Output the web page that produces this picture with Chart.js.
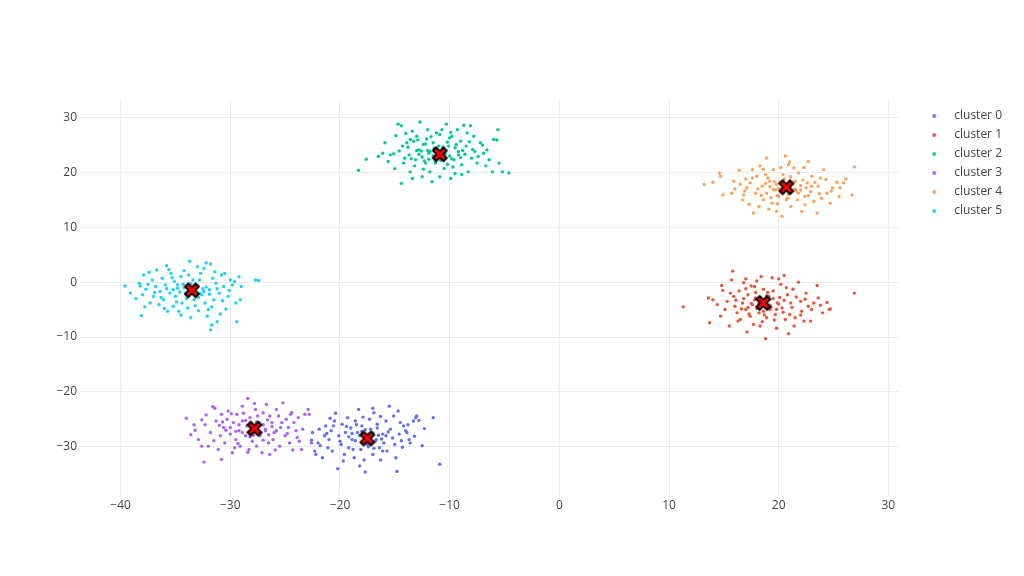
<!DOCTYPE html>
<html>
<head>
<meta charset="utf-8">
<script src="https://cdn.jsdelivr.net/npm/chart.js@4.4.1/dist/chart.umd.min.js"></script>
<style>
  html, body { margin: 0; padding: 0; background: #ffffff; }
  #wrap { width: 1024px; height: 576px; }
</style>
</head>
<body>
<div id="wrap"><canvas id="chart" width="1024" height="576"></canvas></div>
<script>
// values
const clusterNames = ['cluster 0', 'cluster 1', 'cluster 2', 'cluster 3', 'cluster 4', 'cluster 5'];

const cluster0 = [
  [-22.5,-27.4],[-22.3,-30.8],[-22.2,-31.4],[-22.0,-29.3],[-21.9,-26.8],[-21.6,-32.0],[-21.4,-28.0],[-21.3,-26.2],
  [-21.1,-30.2],[-21.0,-28.7],[-20.8,-27.1],[-20.7,-30.8],[-20.5,-25.3],[-20.4,-23.9],[-20.2,-34.0],[-20.1,-28.0],
  [-19.9,-29.6],[-19.8,-25.9],[-19.6,-31.4],[-19.5,-27.4],[-19.3,-24.7],[-19.2,-30.2],[-19.0,-26.6],[-18.9,-28.7],
  [-18.7,-32.0],[-18.6,-25.3],[-18.4,-27.4],[-18.3,-23.2],[-18.1,-30.5],[-18.0,-26.2],[-17.8,-32.4],[-17.7,-34.6],
  [-17.5,-29.6],[-17.3,-25.0],[-17.2,-26.8],[-17.0,-31.4],[-16.9,-23.8],[-16.7,-28.7],[-16.6,-25.9],[-16.4,-30.2],
  [-16.3,-24.5],[-16.1,-27.7],[-16.0,-29.3],[-15.8,-25.3],[-15.7,-30.8],[-15.5,-22.6],[-15.4,-26.8],[-15.2,-28.4],
  [-15.1,-24.4],[-14.9,-32.0],[-14.8,-34.5],[-14.6,-27.7],[-14.5,-25.6],[-14.3,-30.1],[-14.2,-26.2],[-14.0,-27.1],
  [-13.9,-27.4],[-13.7,-28.7],[-13.6,-29.3],[-13.3,-25.3],[-13.1,-24.7],[-13.0,-24.4],[-12.3,-26.7],[-11.5,-24.7],
  [-10.9,-33.2],[-18.2,-28.0],[-16.8,-29.0],[-17.9,-29.4],[-16.5,-27.9],[-18.6,-28.9],[-17.0,-27.5],[-18.0,-27.2],
  [-16.2,-28.6],[-19.2,-28.2],[-17.4,-30.0],[-15.8,-28.0],[-18.9,-27.6],[-17.7,-26.9],[-16.9,-30.3],
  [-21.8,-29.8],[-21.2,-27.6],[-20.6,-26.2],[-20.0,-29.0],[-19.4,-26.3],[-18.8,-30.5],[-18.5,-26.0],[-17.9,-24.6],
  [-17.4,-27.7],[-16.6,-26.6],[-16.1,-30.8],[-15.6,-27.3],[-15.0,-29.6],[-14.4,-28.9],[-13.8,-26.0],[-13.2,-28.1],
  [-12.8,-25.2],[-19.7,-32.6],[-16.3,-32.4],[-18.2,-33.5],[-20.9,-24.8],[-14.7,-23.5],[-17.0,-23.0],[-22.6,-28.8],[-12.5,-29.8]
];

const cluster1 = [
  [11.3,-4.5],[13.7,-7.4],[13.6,-2.9],[14.0,-3.2],[14.4,-4.1],[14.7,-6.2],[14.8,-0.6],[14.9,-1.5],
  [15.1,-5.0],[15.3,-3.5],[15.5,-8.0],[15.7,0.4],[15.8,2.0],[15.9,-2.6],[16.0,-4.4],[16.2,-5.6],
  [16.4,-1.6],[16.5,-6.8],[16.7,-3.8],[16.8,-0.1],[17.0,-5.0],[17.1,-9.1],[17.2,-2.3],[17.4,-6.2],
  [17.5,-0.7],[17.6,-4.1],[17.7,-7.7],[17.9,-2.9],[18.0,0.2],[18.2,-5.6],[18.3,-8.0],[18.4,1.0],
  [18.6,-1.3],[18.8,-10.3],[18.9,-6.5],[19.1,-2.6],[19.2,-5.0],[19.4,0.8],[19.5,-1.6],[19.7,-5.9],
  [19.8,-8.4],[19.9,-3.8],[20.2,-0.4],[20.3,-4.7],[20.5,1.2],[20.6,-6.8],[20.8,-2.3],[20.9,-9.4],
  [21.0,-5.9],[21.1,-3.8],[21.3,-1.3],[21.5,-6.5],[21.8,0.0],[22.0,-3.5],[22.1,-5.3],[22.3,-7.1],
  [22.5,-2.0],[22.7,-4.4],[22.9,-7.1],[23.2,-3.8],[23.5,-0.6],[23.6,-2.9],[24.0,-5.6],[24.4,-3.7],
  [24.6,-5.0],[24.7,-4.9],[26.9,-2.0],[17.8,-3.2],[19.2,-4.2],[18.0,-4.8],[19.5,-3.0],[17.5,-3.9],
  [18.9,-2.5],[20.0,-4.0],[17.2,-4.6],[18.3,-2.8],[19.8,-5.0],[16.8,-3.0],[18.6,-5.3],[20.5,-3.3],[17.9,-1.9],
  [15.6,-2.0],[16.1,-3.3],[16.6,-4.9],[17.0,-1.2],[17.3,-5.8],[17.8,-0.8],[18.2,-3.9],[18.7,-6.0],
  [19.0,-1.9],[19.3,-4.6],[19.6,-6.9],[20.1,-2.8],[20.4,-5.5],[20.7,-1.0],[21.2,-4.6],[21.6,-2.7],
  [22.0,-6.0],[22.4,-3.1],[23.0,-5.0],[23.8,-4.2],[16.3,-7.1],[18.5,-7.2],[20.0,0.6],[17.0,0.6],[21.4,-8.0]
];

const cluster2 = [
  [-18.3,20.4],[-17.6,22.4],[-16.5,22.9],[-16.1,23.5],[-15.9,25.4],[-15.4,23.2],[-15.1,23.4],[-15.0,20.7],
  [-14.9,26.7],[-14.7,28.8],[-14.4,28.5],[-14.3,24.8],[-14.2,21.7],[-14.0,27.1],[-13.9,25.4],[-13.7,23.2],
  [-13.6,20.1],[-13.4,27.5],[-14.4,18.0],[-13.4,18.9],[-13.3,25.7],[-13.1,22.3],[-13.0,26.6],[-12.8,24.1],
  [-12.7,29.2],[-12.5,19.2],[-12.4,25.1],[-12.2,21.7],[-12.1,26.1],[-11.9,23.5],[-11.8,20.1],[-11.6,18.3],
  [-11.5,25.4],[-11.3,21.7],[-11.2,27.2],[-10.9,19.2],[-10.7,27.8],[-10.5,20.7],[-10.3,28.8],[-10.1,24.8],
  [-9.9,18.9],[-9.8,26.6],[-9.6,22.3],[-9.5,19.8],[-9.3,27.8],[-9.2,23.8],[-9.0,25.7],[-8.9,21.4],
  [-8.7,28.6],[-8.5,24.8],[-8.3,20.1],[-8.1,28.5],[-8.0,22.6],[-7.8,26.6],[-7.7,23.8],[-7.5,21.7],
  [-7.2,25.4],[-6.9,23.5],[-6.6,24.1],[-6.4,22.3],[-6.1,20.1],[-6.0,26.0],[-5.7,25.9],[-5.6,27.8],
  [-5.5,21.7],[-5.2,20.1],[-4.6,19.9],[-12.0,24.0],[-11.5,23.0],[-10.5,24.2],[-10.0,23.0],[-12.5,22.8],
  [-11.0,24.8],[-9.8,22.5],[-12.2,25.2],[-10.8,22.2],[-11.8,23.8],[-9.5,24.5],[-13.0,24.0],[-10.2,25.5],
  [-11.3,21.9],[-12.8,23.3],[-9.2,23.2],[-10.6,24.6],[-11.9,22.4],[-8.8,24.0],[-13.5,22.5],
  [-14.6,23.9],[-13.8,24.6],[-13.2,21.2],[-12.9,25.9],[-12.6,23.9],[-12.3,22.1],[-11.7,26.5],[-11.4,24.4],
  [-11.1,22.8],[-10.4,23.4],[-10.0,26.3],[-9.7,21.0],[-9.4,25.1],[-9.0,22.7],[-8.6,23.3],[-8.2,25.6],
  [-7.9,24.2],[-7.4,22.9],[-7.0,25.0],[-6.7,21.2],[-13.6,26.0],[-12.0,27.8],[-10.9,26.9],[-9.9,27.3],
  [-8.4,27.2],[-15.6,22.0],[-14.1,22.6],[-12.4,20.6],[-10.2,21.5],[-8.9,19.6]
];

const cluster3 = [
  [-34.0,-24.8],[-33.3,-26.0],[-33.2,-27.0],[-32.9,-28.7],[-32.6,-25.1],[-32.4,-32.8],[-32.3,-26.0],[-32.0,-29.9],
  [-31.8,-27.4],[-31.6,-22.7],[-31.4,-23.0],[-31.3,-25.3],[-31.1,-30.5],[-30.9,-28.0],[-30.8,-32.3],[-30.8,-24.1],
  [-30.6,-26.5],[-30.5,-29.3],[-30.3,-25.0],[-30.2,-23.5],[-30.0,-27.7],[-29.8,-31.1],[-29.7,-25.6],[-29.5,-28.7],
  [-29.4,-24.1],[-29.2,-27.1],[-29.1,-29.9],[-28.9,-22.6],[-28.9,-25.3],[-28.6,-28.0],[-28.4,-21.2],[-28.3,-30.5],
  [-28.2,-24.7],[-28.0,-29.0],[-27.7,-23.2],[-27.6,-29.9],[-27.4,-25.6],[-27.3,-28.0],[-27.1,-31.1],[-27.0,-23.8],
  [-26.8,-27.1],[-26.7,-22.3],[-26.5,-29.3],[-26.4,-31.4],[-26.4,-24.4],[-26.2,-25.6],[-26.1,-28.7],[-25.8,-23.2],
  [-25.8,-27.1],[-25.6,-24.4],[-25.5,-29.9],[-25.3,-25.6],[-25.2,-22.0],[-25.0,-28.0],[-24.9,-25.0],[-24.7,-26.5],
  [-24.6,-29.3],[-24.4,-23.8],[-24.3,-30.6],[-24.0,-27.1],[-23.8,-24.7],[-23.7,-29.0],[-23.5,-30.5],[-23.2,-24.1],
  [-22.9,-23.2],[-22.8,-24.1],[-22.6,-29.3],[-28.5,-26.2],[-27.2,-27.5],[-28.9,-27.4],[-27.0,-26.0],[-28.2,-28.2],
  [-26.8,-26.8],[-29.2,-26.0],[-27.6,-25.5],[-28.6,-25.2],[-26.5,-27.8],[-29.5,-27.2],[-27.9,-27.9],[-26.2,-26.3],[-30.0,-26.5],
  [-33.6,-27.8],[-32.2,-24.2],[-31.5,-28.9],[-31.0,-26.1],[-30.4,-27.0],[-29.9,-24.0],[-29.3,-29.4],[-28.8,-23.9],
  [-28.1,-25.8],[-27.5,-24.4],[-27.0,-28.8],[-26.6,-25.1],[-26.0,-27.4],[-25.4,-26.5],[-24.8,-27.6],[-24.2,-25.6],
  [-23.4,-26.8],[-25.9,-30.6],[-29.6,-30.2],[-28.4,-31.0],[-27.8,-22.1],[-30.7,-25.5],[-24.5,-24.1],[-23.9,-28.3],[-32.6,-29.9]
];

const cluster4 = [
  [13.2,17.8],[14.0,18.2],[14.6,19.9],[14.7,19.3],[14.9,15.9],[15.7,16.2],[15.9,18.4],[16.4,20.4],
  [16.5,17.8],[16.7,15.0],[16.8,15.9],[17.0,18.8],[17.1,17.2],[17.4,18.1],[17.6,20.5],[17.7,12.6],
  [17.9,16.2],[18.0,19.3],[18.2,13.8],[18.3,21.2],[18.5,17.5],[18.6,15.0],[18.8,19.6],[18.9,22.6],
  [18.9,16.2],[19.1,13.3],[19.2,18.4],[19.4,14.4],[19.5,20.5],[19.7,16.8],[19.8,12.9],[20.0,15.6],
  [20.2,20.9],[20.3,12.0],[20.6,23.0],[20.8,15.3],[20.9,21.4],[21.1,13.8],[21.2,16.5],[21.4,20.8],
  [21.5,18.4],[21.7,15.0],[21.8,19.9],[22.0,16.8],[22.1,12.9],[22.3,20.9],[22.4,15.6],[22.6,18.1],
  [22.7,22.0],[22.9,16.5],[23.0,19.3],[23.2,14.7],[23.5,12.6],[23.6,17.5],[23.8,19.0],[23.9,15.3],
  [24.1,20.5],[24.4,16.2],[24.7,14.4],[24.9,17.2],[25.3,18.2],[25.5,15.6],[25.9,18.1],[26.1,18.8],
  [26.7,15.9],[26.9,21.0],[19.8,17.8],[21.5,17.0],[20.2,16.5],[21.0,18.3],[19.5,16.9],[22.0,17.6],
  [20.5,18.8],[21.8,16.2],[19.2,17.4],[20.9,16.0],[22.5,17.2],[18.8,18.0],[20.0,17.1],[21.3,17.9],[23.0,17.5],[19.9,15.8],
  [16.0,17.0],[16.9,16.6],[17.6,19.0],[18.1,17.0],[18.4,15.8],[19.0,19.0],[19.6,18.3],[19.9,14.3],
  [20.4,19.6],[20.7,15.0],[21.1,19.2],[21.6,16.6],[22.2,18.6],[22.7,15.8],[23.3,18.2],[23.7,16.1],
  [24.3,18.7],[24.8,16.6],[25.6,17.2],[17.3,14.2],[18.6,20.6],[21.0,21.9],[22.4,14.1],[19.3,15.4],[20.1,18.2]
];

const cluster5 = [
  [-39.6,-0.7],[-39.1,-2.0],[-38.3,-0.2],[-38.2,-0.7],[-38.1,-6.1],[-38.0,-2.3],[-37.9,1.3],[-37.7,-1.3],
  [-37.4,1.8],[-37.3,-3.8],[-37.1,0.4],[-37.0,-2.6],[-36.8,-0.8],[-36.7,2.2],[-36.5,-4.1],[-36.4,-1.7],
  [-36.2,0.7],[-36.1,-3.2],[-35.9,-0.5],[-35.8,3.0],[-35.7,-5.3],[-35.5,-2.0],[-35.4,1.6],[-35.2,-4.4],
  [-35.1,0.1],[-35.0,-2.6],[-34.8,-1.1],[-34.7,-5.3],[-34.5,1.0],[-34.4,-3.8],[-34.2,2.1],[-34.1,-2.0],
  [-33.9,-4.7],[-33.7,3.8],[-33.6,-6.5],[-33.4,0.4],[-33.3,-3.2],[-33.0,-0.8],[-32.9,-5.2],[-32.7,1.6],
  [-32.6,-2.3],[-32.4,2.5],[-32.3,-3.8],[-32.2,3.5],[-32.1,-6.2],[-31.9,-1.4],[-31.8,3.3],[-31.8,-8.7],
  [-31.7,-7.8],[-31.6,0.7],[-31.5,-3.2],[-31.3,-0.2],[-31.2,-7.2],[-31.0,-2.0],[-30.8,1.3],[-30.6,-0.8],
  [-30.5,1.6],[-30.4,-4.9],[-30.2,-2.6],[-30.0,0.4],[-29.8,-0.5],[-29.5,-3.8],[-29.4,-7.2],[-29.2,1.0],
  [-29.1,-3.2],[-29.0,-0.8],[-27.7,0.4],[-27.4,0.3],[-34.2,-1.0],[-32.8,-2.0],[-33.9,-2.4],[-33.0,-0.6],
  [-34.6,-1.8],[-32.5,-1.2],[-33.6,-0.3],[-34.0,-3.0],[-32.9,-2.8],[-35.2,-1.4],[-31.9,-2.2],[-33.3,-1.9],[-34.8,-0.5],[-32.2,-0.9],
  [-38.6,-3.0],[-37.5,-0.4],[-36.9,-1.9],[-36.3,-2.8],[-35.8,-1.2],[-35.3,0.8],[-34.9,-3.6],[-34.3,-0.4],
  [-33.8,1.3],[-33.2,-4.3],[-32.8,0.4],[-32.4,-1.7],[-31.7,-4.5],[-31.2,-1.2],[-30.7,-3.4],[-30.1,-1.5],
  [-29.6,0.1],[-36.0,-4.8],[-34.5,-6.0],[-33.0,2.8],[-31.4,1.9],[-35.6,2.3],[-30.9,-5.8],[-37.8,-4.5],[-32.0,-5.0]
];

const centroidX = [-17.5, 18.6, -10.9, -27.8, 20.7, -33.5];
const centroidY = [-28.5, -3.8, 23.3, -26.7, 17.3, -1.5];

const xTicks = [-40, -30, -20, -10, 0, 10, 20, 30];
const yTicks = [-30, -20, -10, 0, 10, 20, 30];

const colors = ['#636efa', '#ef553b', '#00cc96', '#ab63fa', '#ffa15a', '#19d3f3'];
const clusters = [cluster0, cluster1, cluster2, cluster3, cluster4, cluster5];

// centroid marker: red x with black outline
function makeCross() {
  const c = document.createElement('canvas');
  c.width = 22; c.height = 22;
  const g = c.getContext('2d');
  g.translate(11, 11);
  g.lineCap = 'butt';
  g.strokeStyle = '#000000';
  g.lineWidth = 6.5;
  g.beginPath();
  g.moveTo(-6, -6); g.lineTo(6, 6);
  g.moveTo(-6, 6); g.lineTo(6, -6);
  g.stroke();
  g.strokeStyle = '#ff0000';
  g.lineWidth = 2.8;
  g.beginPath();
  g.moveTo(-4.6, -4.6); g.lineTo(4.6, 4.6);
  g.moveTo(-4.6, 4.6); g.lineTo(4.6, -4.6);
  g.stroke();
  return c;
}

// small legend dot, offset to the right inside its box
function makeDot(color) {
  const c = document.createElement('canvas');
  c.width = 24; c.height = 8;
  const g = c.getContext('2d');
  g.fillStyle = color;
  g.beginPath();
  g.arc(19.5, 4, 1.9, 0, Math.PI * 2);
  g.fill();
  return c;
}

const datasets = clusters.map((pts, i) => ({
  label: clusterNames[i],
  data: pts.map(p => ({ x: p[0], y: p[1] })),
  backgroundColor: colors[i],
  borderWidth: 0,
  pointRadius: 1.7,
  pointHoverRadius: 1.7,
  order: 1
}));

datasets.push({
  label: 'centroids',
  data: centroidX.map((x, i) => ({ x: x, y: centroidY[i] })),
  pointStyle: makeCross(),
  order: 0
});

Chart.defaults.font.family = '"Open Sans", verdana, arial, sans-serif';
Chart.defaults.font.size = 12;
Chart.defaults.color = '#444444';

const fmt = v => String(v).replace('-', '\u2212');

new Chart(document.getElementById('chart'), {
  type: 'scatter',
  data: { datasets },
  options: {
    responsive: false,
    animation: false,
    layout: { padding: { left: 0, top: 100, right: 12, bottom: 61 } },
    plugins: {
      tooltip: { enabled: false },
      legend: {
        position: 'right',
        align: 'start',
        title: { display: true, text: ' ', font: { size: 1, lineHeight: 1 }, padding: { top: 2, bottom: 0 } },
        labels: {
          usePointStyle: true,
          pointStyleWidth: 43,
          boxHeight: 4,
          padding: 7,
          color: '#444444',
          font: { size: 12 },
          filter: item => item.datasetIndex < clusterNames.length,
          generateLabels: chart => {
            const items = Chart.defaults.plugins.legend.labels.generateLabels(chart);
            items.forEach(item => {
              if (item.datasetIndex < colors.length) item.pointStyle = makeDot(colors[item.datasetIndex]);
            });
            return items.sort((a, b) => a.datasetIndex - b.datasetIndex);
          }
        }
      }
    },
    scales: {
      x: {
        type: 'linear',
        min: -43.7,
        max: 30.9,
        afterBuildTicks: s => { s.ticks = xTicks.map(v => ({ value: v })); },
        afterFit: s => { s.height = 20; },
        grid: { color: '#ebebeb', drawTicks: false },
        border: { display: false },
        ticks: { padding: 3, maxRotation: 0, callback: fmt }
      },
      y: {
        type: 'linear',
        min: -38.8,
        max: 33.2,
        afterBuildTicks: s => { s.ticks = yTicks.map(v => ({ value: v })); },
        afterFit: s => { s.width = 80; },
        grid: { color: '#ebebeb', drawTicks: false },
        border: { display: false },
        ticks: { padding: 3, callback: fmt }
      }
    }
  }
});
</script>
</body>
</html>
